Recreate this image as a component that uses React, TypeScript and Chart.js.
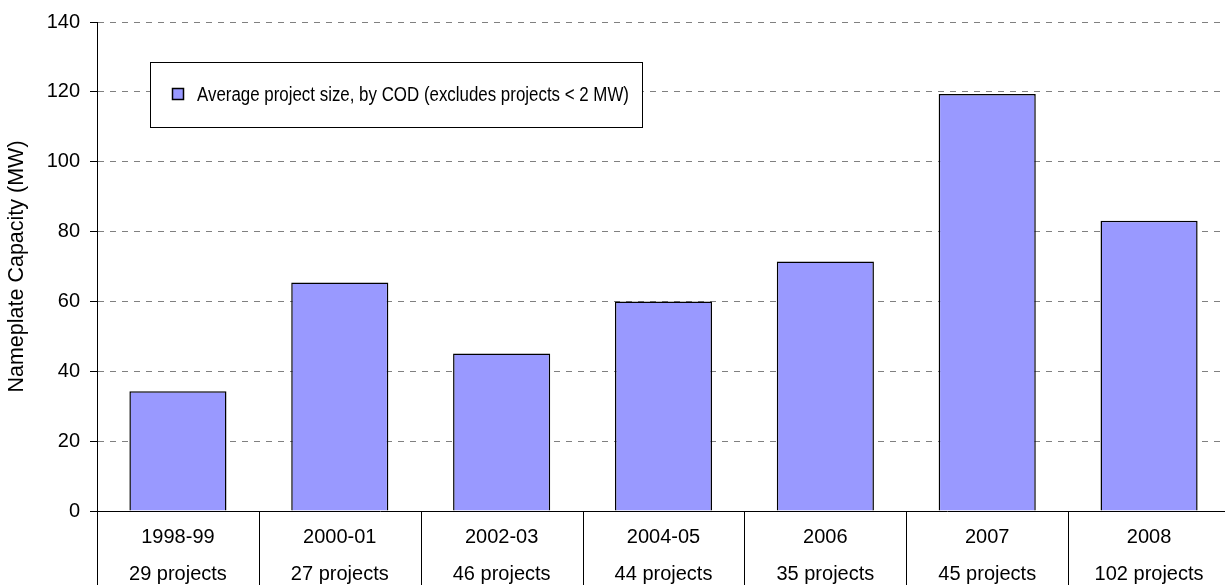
import React, { useEffect, useRef } from "react";
import { Chart, registerables } from "chart.js";

Chart.register(...registerables);

const periods = ["1998-99", "2000-01", "2002-03", "2004-05", "2006", "2007", "2008"];
const projectCounts = ["29 projects", "27 projects", "46 projects", "44 projects", "35 projects", "45 projects", "102 projects"];
const avgSize = [34.3, 65.4, 45.1, 60.0, 71.4, 119.4, 83.1];
const seriesLabel = "Average project size, by COD (excludes projects < 2 MW)";
const yTitle = "Nameplate Capacity (MW)";
const yMin = 0;
const yMax = 140;
const yStep = 20;

const FONT = "'Liberation Sans', Arial, sans-serif";

const decorPlugin = {
  id: "decor",
  afterDraw(chart: any) {
    const ctx = chart.ctx;
    const xs = chart.scales.x;
    const area = chart.chartArea;
    const n = chart.data.labels.length;
    ctx.save();
    // category separators below the axis
    ctx.strokeStyle = "#000";
    ctx.lineWidth = 1;
    const bounds: number[] = [area.left];
    for (let i = 1; i < n; i++) {
      bounds.push((xs.getPixelForTick(i - 1) + xs.getPixelForTick(i)) / 2);
    }
    bounds.push(area.right);
    for (const b of bounds) {
      const x = Math.round(b) + 0.5;
      ctx.beginPath();
      ctx.moveTo(x, area.bottom);
      ctx.lineTo(x, chart.height);
      ctx.stroke();
    }
    // legend box
    const bx = 150.5, by = 62.5, bw = 492, bh = 65;
    ctx.fillStyle = "#fff";
    ctx.fillRect(bx, by, bw, bh);
    ctx.strokeStyle = "#000";
    ctx.strokeRect(bx, by, bw, bh);
    const ds = chart.data.datasets[0];
    ctx.fillStyle = ds.backgroundColor;
    ctx.fillRect(172.5, 88.5, 11, 11);
    ctx.strokeStyle = "#000";
    ctx.lineWidth = 1.5;
    ctx.strokeRect(172.5, 88.5, 11, 11);
    ctx.fillStyle = "#000";
    ctx.font = `20px ${FONT}`;
    ctx.textBaseline = "alphabetic";
    ctx.textAlign = "left";
    const w = ctx.measureText(ds.label).width;
    const sx = 432 / w;
    ctx.translate(197, 100.5);
    ctx.scale(sx, 1);
    ctx.fillText(ds.label, 0, 0);
    ctx.restore();
  },
};

export default function App() {
  const ref = useRef<HTMLCanvasElement>(null);
  useEffect(() => {
    document.body.style.margin = "0";
    document.body.style.overflow = "hidden";
    const chart = new Chart(ref.current!, {
      type: "bar",
      data: {
        labels: periods.map((p, i) => [p, projectCounts[i]]),
        datasets: [
          {
            label: seriesLabel,
            data: avgSize,
            backgroundColor: "#9999FF",
            borderColor: "#000",
            borderWidth: 1.5,
            barPercentage: 0.6,
            categoryPercentage: 1,
          },
        ],
      },
      options: {
        animation: false,
        responsive: false,
        maintainAspectRatio: false,
        layout: { padding: { top: 21, right: 10, bottom: 0, left: 0 } },
        plugins: { legend: { display: false }, tooltip: { enabled: false } },
        scales: {
          x: {
            afterFit: (s: any) => {
              s.height = 74;
            },
            grid: { display: false, drawTicks: false },
            border: { display: true, color: "#000", width: 1 },
            ticks: {
              color: "#000",
              padding: 8,
              maxRotation: 0,
              autoSkip: false,
              font: { family: FONT, size: 20, lineHeight: 1.85 },
            },
          },
          y: {
            min: yMin,
            max: yMax,
            afterFit: (s: any) => {
              s.width = 97;
            },
            border: { display: true, color: "#000", width: 1, dash: [6, 6] },
            grid: {
              color: "#808080",
              lineWidth: 1,
              drawTicks: true,
              tickLength: 7,
              tickColor: "#000",
              tickBorderDash: [],
            } as any,
            ticks: {
              stepSize: yStep,
              color: "#000",
              padding: 10,
              font: { family: FONT, size: 20 },
            },
            title: {
              display: true,
              text: yTitle,
              color: "#000",
              font: { family: FONT, size: 21.5 },
              padding: { top: 4.6, bottom: 0 },
            },
          },
        },
      },
      plugins: [decorPlugin],
    } as any);
    return () => chart.destroy();
  }, []);
  return (
    <div style={{ position: "fixed", left: 0, top: 0, width: 1225, height: 585, overflow: "hidden", background: "#fff" }}>
      <canvas ref={ref} width={1240} height={585} style={{ width: 1240, height: 585, display: "block" }} />
    </div>
  );
}
